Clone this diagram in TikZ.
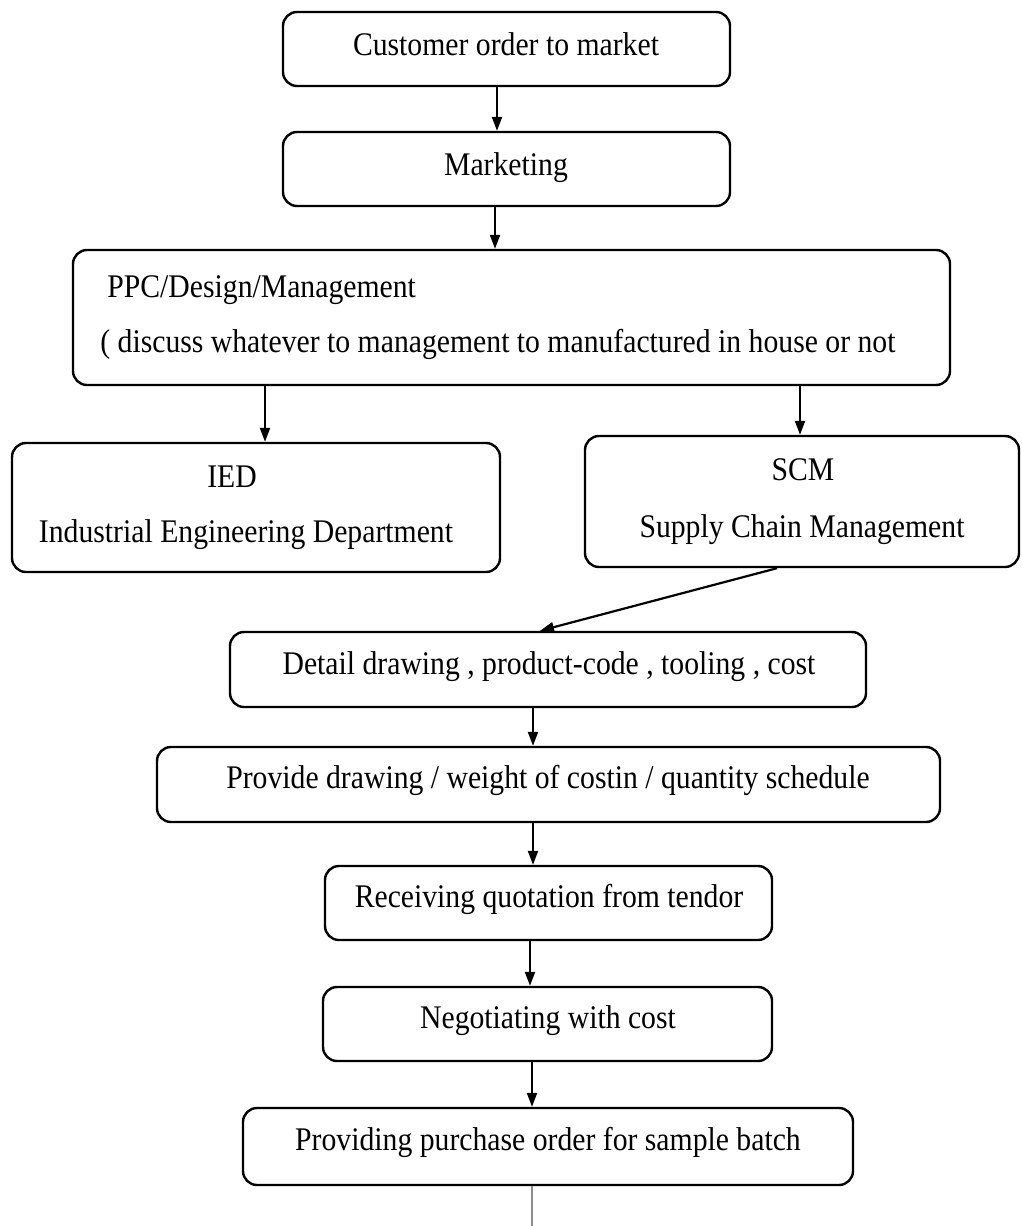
\documentclass[tikz,border=0pt]{standalone}
\usepackage{fontspec}
\setmainfont{Liberation Serif}[FakeStretch=0.9]
\usetikzlibrary{arrows.meta,fit}
\begin{document}
\begin{tikzpicture}[x=0.5pt,y=-0.5pt,
  box/.style={draw, line width=1.2pt, rounded corners=7pt, inner sep=0pt, fit={#1}},
  lbl/.style={anchor=base, inner sep=0pt, font=\fontsize{16.5}{20}\selectfont},
  arr/.style={line width=1.1pt, -{Triangle[length=7pt,width=5pt]}},
  tail/.style={line width=0.6pt, draw=black!45}]
\useasboundingbox[fill=white] (0,0) rectangle (1022,1226);

% boxes
\node[box={(283,12) (730,86)}]   (b1) {};
\node[box={(283,132) (730,206)}] (b2) {};
\node[box={(73,250) (950,385)}]  (b3) {};
\node[box={(12,443) (500,572)}]  (ied) {};
\node[box={(585,436) (1019,567)}] (scm) {};
\node[box={(230,632) (866,707)}] (b6) {};
\node[box={(157,747) (940,822)}] (b7) {};
\node[box={(325,866) (772,940)}] (b8) {};
\node[box={(323,987) (772,1061)}] (b9) {};
\node[box={(243,1108) (853,1185)}] (b10) {};

% texts
\node[lbl] (t1) at (506,55) {Customer order to market};
\node[lbl] (t2) at (506,175) {Marketing};
\node[lbl, anchor=base west] (t3a) at (107,297) {PPC/Design/Management};
\node[lbl, anchor=base west] (t3b) at (100,352) {( discuss whatever to management to manufactured in house or not};
\node[lbl] (t4a) at (232,487) {IED};
\node[lbl] (t4b) at (246,542) {Industrial Engineering Department};
\node[lbl] (t5a) at (803,480) {SCM};
\node[lbl] (t5b) at (802,537) {Supply Chain Management};
\node[lbl] (t6) at (549,674) {Detail drawing , product-code , tooling , cost};
\node[lbl] (t7) at (548,788) {Provide drawing / weight of costin / quantity schedule};
\node[lbl] (t8) at (549,907) {Receiving quotation from tendor};
\node[lbl] (t9) at (548,1028) {Negotiating with cost};
\node[lbl] (t10) at (548,1150) {Providing purchase order for sample batch};

% columns for the connectors
\coordinate (c1) at (497,0);
\coordinate (c2) at (495,0);
\coordinate (c3) at (265,0);
\coordinate (c4) at (800,0);
\coordinate (c5) at (777,0);
\coordinate (c6) at (540,0);
\coordinate (c7) at (533,0);
\coordinate (c8) at (530,0);
\coordinate (c9) at (532,0);
\coordinate (bottom) at (532,1226);

% connectors
\draw[arr] (b1.south -| c1) -- (b2.north -| c1);
\draw[arr] (b2.south -| c2) -- (b3.north -| c2);
\draw[arr] (b3.south -| c3) -- (ied.north -| c3);
\draw[arr] (b3.south -| c4) -- (scm.north -| c4);
\draw[arr] (scm.south -| c5) -- (b6.north -| c6);
\draw[arr] (b6.south -| c7) -- (b7.north -| c7);
\draw[arr] (b7.south -| c7) -- (b8.north -| c7);
\draw[arr] (b8.south -| c8) -- (b9.north -| c8);
\draw[arr] (b9.south -| c9) -- (b10.north -| c9);
\draw[tail] (b10.south -| c9) -- (bottom);
\end{tikzpicture}
\end{document}
